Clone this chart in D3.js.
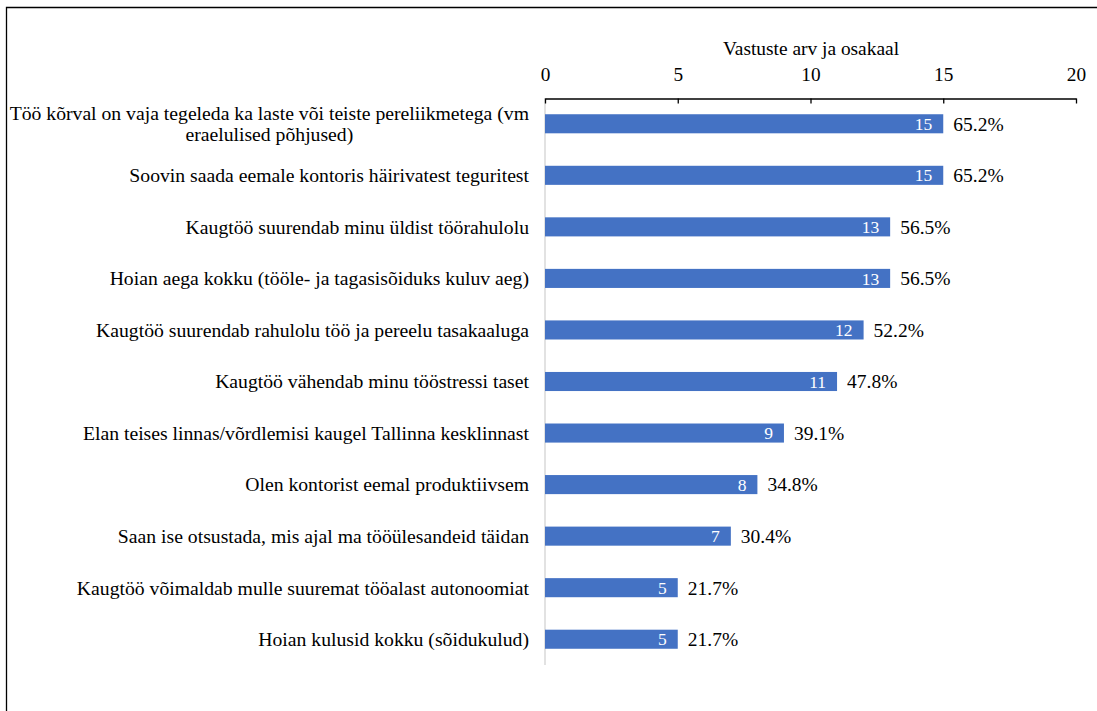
<!DOCTYPE html>
<html>
<head>
<meta charset="utf-8">
<script src="https://cdn.jsdelivr.net/npm/d3@7"></script>
<style>
  html, body { margin: 0; padding: 0; background: #fff; }
  svg { display: block; }
</style>
</head>
<body>
<svg id="chart" width="1097" height="711"></svg>
<script>
// Reasons for preferring remote work: respondent counts and shares
const categories = [
  ["Töö kõrval on vaja tegeleda ka laste või teiste pereliikmetega (vm", "eraelulised põhjused)"],
  ["Soovin saada eemale kontoris häirivatest teguritest"],
  ["Kaugtöö suurendab minu üldist töörahulolu"],
  ["Hoian aega kokku (tööle- ja tagasisõiduks kuluv aeg)"],
  ["Kaugtöö suurendab rahulolu töö ja pereelu tasakaaluga"],
  ["Kaugtöö vähendab minu tööstressi taset"],
  ["Elan teises linnas/võrdlemisi kaugel Tallinna kesklinnast"],
  ["Olen kontorist eemal produktiivsem"],
  ["Saan ise otsustada, mis ajal ma tööülesandeid täidan"],
  ["Kaugtöö võimaldab mulle suuremat tööalast autonoomiat"],
  ["Hoian kulusid kokku (sõidukulud)"]
];
const counts = [15, 15, 13, 13, 12, 11, 9, 8, 7, 5, 5];
const shares = ["65.2%", "65.2%", "56.5%", "56.5%", "52.2%", "47.8%", "39.1%", "34.8%", "30.4%", "21.7%", "21.7%"];
const xTicks = [0, 5, 10, 15, 20];
const axisTitle = "Vastuste arv ja osakaal";

const FONT = "'Liberation Serif'";
const svg = d3.select("#chart");

// outer frame
svg.append("path")
  .attr("d", "M6.5,711 L6.5,7.5 L1097,7.5")
  .attr("fill", "none").attr("stroke", "#000").attr("stroke-width", 1.3);

const x = d3.scaleLinear().domain([0, 20]).range([545, 1076]);
const y = d3.scaleBand().domain(d3.range(categories.length)).range([98, 665]).paddingInner(0.63).paddingOuter(0.315);

// zero line
svg.append("line")
  .attr("x1", x(0)).attr("x2", x(0)).attr("y1", 98).attr("y2", 665)
  .attr("stroke", "#d9d9d9").attr("stroke-width", 1.5);

// top axis
const axis = d3.axisTop(x).tickValues(xTicks).tickSize(0).tickPadding(18);
const gAxis = svg.append("g").attr("transform", "translate(0,98.5)").call(axis);
gAxis.select(".domain").attr("stroke", "#000").attr("stroke-width", 1.5);
gAxis.selectAll(".tick line").remove();
gAxis.selectAll(".tick").append("line")
  .attr("y1", 0).attr("y2", 5).attr("stroke", "#000").attr("stroke-width", 1.3);
gAxis.selectAll(".tick text")
  .style("font-family", FONT).style("font-size", "19.3px").attr("fill", "#000");

svg.append("text")
  .attr("x", 811).attr("y", 55)
  .attr("text-anchor", "middle")
  .style("font-family", FONT).style("font-size", "19.4px").attr("fill", "#000")
  .text(axisTitle);

// bars
const rows = svg.append("g").selectAll("g").data(counts).join("g");

rows.append("rect")
  .attr("x", x(0))
  .attr("y", (d, i) => y(i))
  .attr("width", d => x(d) - x(0))
  .attr("height", y.bandwidth())
  .attr("fill", "#4472C4");

// counts inside the bar end
rows.append("text")
  .attr("x", d => x(d) - 11)
  .attr("y", (d, i) => y(i) + y.bandwidth() / 2)
  .attr("dy", "0.35em")
  .attr("text-anchor", "end")
  .style("font-family", FONT).style("font-size", "17.5px").attr("fill", "#fff")
  .text(d => d);

// shares just past the bar end
rows.append("text")
  .attr("x", d => x(d) + 10)
  .attr("y", (d, i) => y(i) + y.bandwidth() / 2)
  .attr("dy", "0.35em")
  .style("font-family", FONT).style("font-size", "19.5px").attr("fill", "#000")
  .text((d, i) => shares[i]);

// category labels (multi-line blocks are centred internally, right-aligned as a block)
const labelRight = 529;
categories.forEach((lines, i) => {
  const cy = y(i) + y.bandwidth() / 2;
  const lh = 21.5;
  const g = svg.append("g");
  const texts = lines.map((ln, k) => g.append("text")
    .attr("y", cy + (k - (lines.length - 1) / 2) * lh)
    .attr("dy", "0.35em")
    .style("font-family", FONT).style("font-size", "19.7px").attr("fill", "#000")
    .text(ln));
  const widths = texts.map(t => t.node().getComputedTextLength());
  const maxW = d3.max(widths);
  const centre = labelRight - maxW / 2;
  texts.forEach(t => t.attr("x", centre).attr("text-anchor", "middle"));
});
</script>
</body>
</html>
